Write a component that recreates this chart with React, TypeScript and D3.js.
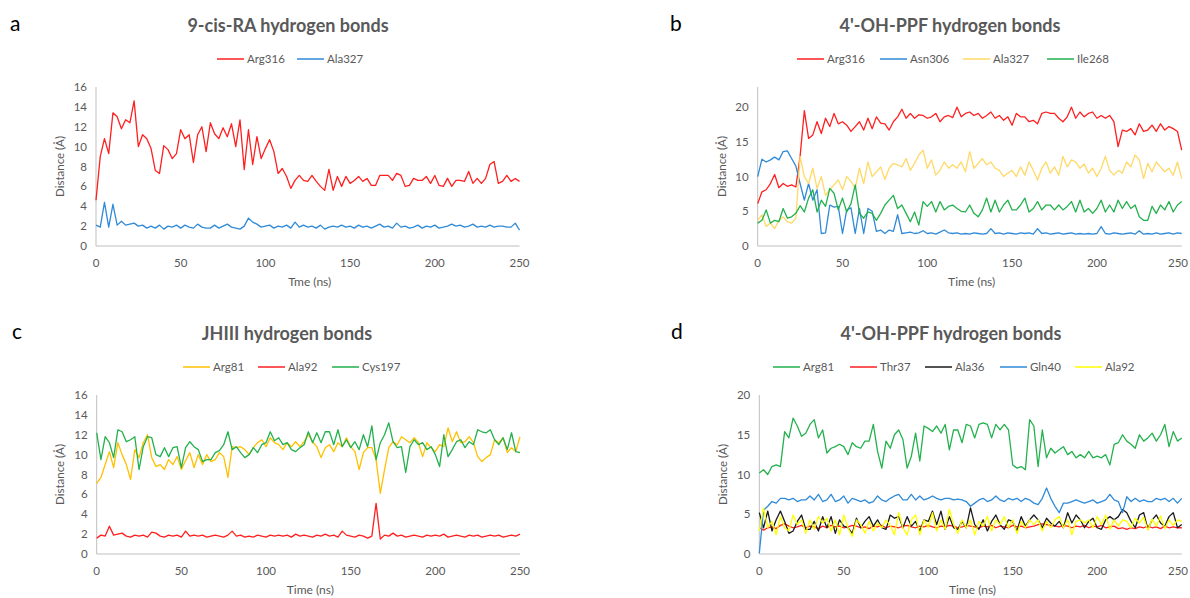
import React from 'react';
import * as d3 from 'd3';

// one sample every 2.5 ns, 0..250 ns
const STEP_NS = 2.5;
const X_TICKS = [0, 50, 100, 150, 200, 250];

// ---- panel a: 9-cis-RA ----
const arg316A = [
  4.6, 9.0, 10.8, 9.3, 13.4, 13.0, 11.8, 12.7, 12.4, 14.6,
  10.0, 11.2, 10.8, 9.8, 7.6, 7.3, 10.1, 9.7, 8.8, 9.3,
  11.7, 10.8, 11.2, 8.4, 11.2, 12.0, 9.5, 12.4, 11.3, 10.8,
  11.9, 11.0, 12.3, 10.0, 12.7, 7.7, 11.7, 8.2, 11.0, 8.8,
  9.8, 10.7, 9.5, 7.3, 7.8, 7.0, 5.8, 6.6, 7.1, 6.6,
  6.5, 7.1, 6.5, 6.0, 5.6, 7.7, 5.6, 7.0, 6.0, 7.0,
  6.3, 6.6, 7.0, 6.5, 6.8, 6.1, 6.1, 7.1, 7.1, 7.1,
  6.6, 7.3, 7.1, 6.0, 6.1, 6.8, 6.6, 6.6, 7.0, 6.3,
  7.1, 6.1, 6.0, 6.8, 6.0, 6.6, 6.6, 6.5, 7.5, 6.3,
  6.8, 6.3, 6.8, 8.2, 8.5, 6.3, 6.5, 7.1, 6.5, 6.8,
  6.5,
];
const ala327A = [
  2.1, 1.9, 4.4, 1.9, 4.2, 2.1, 2.5, 2.1, 2.2, 2.3,
  2.0, 2.1, 1.8, 2.0, 1.8, 2.1, 1.7, 2.0, 1.9, 2.1,
  1.8, 2.1, 1.9, 1.8, 2.2, 1.9, 1.8, 1.8, 2.1, 1.8,
  2.0, 2.2, 1.9, 1.8, 1.7, 2.0, 2.8, 2.4, 2.2, 1.9,
  2.0, 2.1, 1.8, 2.0, 1.9, 2.1, 1.8, 2.4, 1.9, 2.1,
  1.9, 2.0, 1.8, 2.1, 1.7, 1.9, 2.0, 1.9, 2.1, 1.9,
  2.0, 1.8, 2.1, 1.9, 2.0, 1.8, 2.0, 2.2, 1.9, 2.0,
  1.8, 2.3, 1.9, 2.0, 1.8, 1.9, 2.1, 1.8, 2.0, 1.9,
  2.1, 1.8, 1.9, 2.0, 2.2, 2.0, 2.1, 1.9, 2.0, 2.2,
  1.9, 2.0, 1.9, 2.1, 1.9, 2.0, 2.0, 1.9, 1.9, 2.3,
  1.6,
];

// ---- panel b: 4'-OH-PPF ----
const arg316B = [
  6.1, 7.8, 8.1, 9.0, 10.3, 8.4, 9.0, 8.6, 8.8, 8.5,
  12.9, 19.5, 15.5, 16.0, 17.9, 16.2, 18.4, 17.2, 19.1, 17.6,
  17.9, 17.4, 16.5, 17.2, 17.9, 16.7, 18.4, 16.9, 18.6, 17.7,
  17.6, 16.7, 17.9, 18.6, 19.7, 18.4, 19.1, 18.4, 18.9, 18.8,
  18.4, 18.6, 19.1, 17.9, 18.6, 18.8, 18.5, 20.0, 18.6, 19.1,
  19.3, 18.8, 19.1, 18.4, 18.8, 19.3, 18.4, 18.8, 18.1, 18.6,
  17.4, 19.1, 18.6, 18.6, 17.9, 18.1, 17.6, 19.1, 19.3, 19.1,
  19.1, 18.4, 17.9, 18.6, 20.0, 18.4, 19.3, 18.6, 19.1, 19.3,
  18.4, 18.8, 18.4, 18.8, 17.9, 14.3, 16.7, 16.5, 16.9, 16.0,
  17.6, 16.5, 16.7, 17.4, 16.5, 17.6, 16.7, 17.2, 16.9, 16.5,
  13.8,
];
const asn306B = [
  10.0, 12.5, 12.1, 12.4, 12.8, 12.4, 13.6, 13.7, 12.6, 11.5,
  9.0, 6.6, 9.0, 6.6, 8.1, 1.8, 1.9, 5.9, 5.6, 5.7,
  1.8, 5.2, 5.5, 1.8, 5.4, 1.8, 5.4, 5.0, 2.1, 2.3,
  1.8, 2.3, 2.1, 4.5, 1.8, 1.9, 2.0, 1.8, 1.9, 2.2,
  1.8, 1.9, 1.7, 2.0, 2.3, 1.9, 1.8, 1.9, 1.7, 1.8,
  1.7, 1.9, 1.8, 1.7, 1.8, 2.5, 1.8, 1.9, 1.7, 1.9,
  1.8, 1.7, 1.9, 1.8, 1.9, 1.7, 2.5, 1.8, 1.9, 1.7,
  1.8, 1.9, 1.7, 1.8, 1.9, 1.7, 1.8, 1.7, 1.8, 1.7,
  1.8, 2.8, 1.8, 1.7, 1.9, 1.8, 1.7, 1.8, 1.9, 1.7,
  2.2, 1.7, 1.8, 1.7, 1.9, 1.7, 1.8, 1.9, 1.7, 1.9,
  1.8,
];
const ala327B = [
  3.7, 4.5, 2.8, 3.3, 2.5, 3.7, 4.2, 3.5, 3.3, 4.0,
  12.9, 10.0, 9.0, 11.2, 8.3, 10.0, 7.3, 8.1, 8.8, 9.5,
  8.1, 10.0, 9.3, 8.3, 11.2, 9.0, 12.1, 10.0, 10.7, 11.4,
  9.6, 11.2, 11.9, 11.7, 11.4, 12.6, 10.9, 11.9, 13.1, 13.8,
  11.2, 12.4, 10.2, 10.9, 12.1, 11.2, 11.7, 11.2, 12.1, 10.7,
  13.6, 11.2, 11.9, 12.6, 11.7, 12.1, 11.2, 10.9, 10.0, 10.5,
  10.9, 10.0, 11.4, 10.2, 12.1, 10.9, 9.5, 11.2, 12.1, 10.5,
  11.4, 10.2, 12.9, 11.4, 12.4, 12.1, 11.2, 11.8, 10.5, 11.2,
  10.0, 11.2, 12.9, 10.9, 10.2, 10.9, 10.5, 12.1, 11.4, 13.1,
  12.4, 9.7, 11.9, 10.7, 12.1, 11.4, 10.7, 11.2, 10.2, 12.1,
  9.7,
];
const ile268B = [
  3.3, 3.7, 5.2, 3.3, 3.7, 3.5, 5.4, 4.0, 4.2, 4.7,
  5.8, 4.9, 6.9, 8.1, 4.9, 6.6, 5.7, 8.3, 7.6, 5.2,
  6.9, 4.9, 6.1, 8.8, 4.7, 4.0, 4.9, 4.7, 3.7, 4.7,
  5.9, 6.6, 7.3, 5.4, 5.9, 4.7, 3.5, 4.9, 3.0, 6.4,
  5.7, 6.4, 4.9, 6.4, 5.2, 5.7, 5.9, 5.4, 5.0, 4.9,
  5.9, 4.7, 4.2, 5.2, 6.9, 4.9, 6.6, 4.9, 5.9, 6.6,
  5.2, 5.2, 5.9, 6.9, 4.9, 5.4, 6.4, 5.2, 5.9, 5.9,
  5.2, 5.9, 5.2, 5.7, 6.4, 4.9, 6.6, 4.9, 5.4, 4.7,
  5.4, 6.6, 4.9, 5.9, 4.9, 6.6, 5.4, 6.4, 5.4, 5.9,
  4.2, 3.7, 3.7, 5.7, 4.7, 5.9, 5.2, 6.4, 4.9, 5.9,
  6.4,
];

// ---- panel c: JHIII ----
const arg81C = [
  7.1, 7.7, 9.0, 10.3, 8.7, 11.2, 10.0, 9.0, 7.5, 10.5,
  9.7, 11.2, 12.0, 9.7, 8.8, 9.0, 8.5, 9.5, 9.0, 9.8,
  8.5, 9.4, 10.2, 8.7, 10.0, 9.0, 10.0, 9.3, 9.5, 10.2,
  9.8, 7.7, 10.8, 10.7, 10.8, 10.5, 10.0, 10.7, 11.2, 11.5,
  10.8, 11.7, 11.2, 11.0, 10.5, 11.2, 10.8, 11.3, 10.8, 11.3,
  12.0, 11.3, 10.8, 9.7, 10.7, 11.0, 10.3, 11.2, 10.8, 11.7,
  10.8, 10.3, 8.5, 10.2, 10.7, 10.7, 9.5, 6.1, 8.5, 10.7,
  11.3, 11.0, 11.8, 11.5, 11.2, 11.7, 11.2, 9.8, 11.2, 10.7,
  10.3, 11.0, 10.8, 12.7, 11.3, 12.3, 11.2, 11.3, 11.8, 11.2,
  9.8, 9.3, 9.7, 10.0, 11.5, 11.2, 11.7, 10.2, 10.7, 10.3,
  11.8,
];
const ala92C = [
  1.6, 1.9, 1.8, 2.8, 1.9, 2.0, 2.1, 1.8, 1.7, 1.9,
  1.8, 1.9, 1.7, 2.2, 2.1, 1.8, 1.7, 1.9, 1.8, 1.9,
  1.7, 2.3, 1.8, 1.9, 1.8, 1.9, 1.7, 1.8, 1.9, 1.8,
  1.7, 1.9, 2.3, 1.8, 1.9, 1.7, 1.8, 1.7, 1.9, 1.8,
  1.7, 1.9, 1.8, 1.9, 1.8, 1.9, 1.7, 2.0, 1.8, 1.9,
  1.8, 1.7, 1.9, 1.8, 2.0, 1.8, 1.9, 1.7, 2.3, 1.9,
  1.8, 1.7, 1.9, 1.8, 1.6, 1.8, 5.1, 1.5, 1.9, 1.8,
  2.1, 1.8, 1.9, 1.7, 1.8, 1.9, 1.8, 1.7, 1.9, 1.8,
  1.9, 1.8, 2.0, 1.7, 1.8, 1.9, 1.8, 1.7, 1.9, 1.8,
  1.9, 1.7, 1.8, 1.9, 1.8, 1.9, 1.7, 1.8, 1.9, 1.8,
  2.0,
];
const cys197C = [
  12.2, 9.5, 11.8, 11.2, 9.7, 12.5, 12.3, 11.3, 11.5, 11.8,
  8.5, 10.8, 11.8, 11.7, 10.0, 9.8, 10.7, 9.8, 10.7, 10.8,
  8.7, 10.7, 11.3, 10.8, 10.5, 9.3, 9.5, 9.5, 10.2, 10.4,
  11.0, 12.3, 10.5, 10.8, 10.2, 9.7, 10.0, 10.7, 10.2, 11.0,
  11.2, 12.3, 11.4, 11.7, 11.0, 11.2, 10.5, 10.3, 10.7, 11.0,
  12.3, 11.2, 12.2, 11.2, 12.3, 12.3, 11.0, 12.5, 10.8, 11.5,
  10.7, 11.3, 10.5, 12.0, 10.8, 12.9, 9.5, 11.2, 12.0, 13.2,
  11.3, 10.7, 10.8, 8.2, 10.8, 11.5, 11.0, 11.2, 10.5, 10.8,
  10.0, 8.8, 12.0, 9.8, 10.5, 11.3, 11.5, 10.7, 11.3, 11.0,
  12.5, 12.3, 12.2, 12.5, 11.5, 11.0, 11.7, 10.5, 12.2, 10.3,
  10.2,
];

// ---- panel d: 4'-OH-PPF ----
const arg81D = [
  10.2, 10.6, 10.0, 11.0, 11.2, 11.0, 15.4, 14.6, 17.1, 16.1,
  14.8, 15.2, 16.3, 16.9, 14.6, 15.6, 12.7, 13.3, 13.5, 13.8,
  13.5, 12.5, 14.0, 13.5, 13.3, 14.2, 14.2, 16.3, 12.9, 10.8,
  14.2, 13.3, 15.0, 15.6, 14.4, 10.8, 12.3, 15.2, 11.7, 16.1,
  15.8, 15.4, 16.1, 15.2, 16.3, 13.1, 15.6, 15.6, 14.0, 16.3,
  16.1, 14.6, 16.3, 16.5, 16.3, 14.6, 16.3, 15.6, 16.3, 15.6,
  11.2, 10.8, 11.0, 10.6, 16.9, 16.1, 11.0, 15.6, 12.1, 13.3,
  12.7, 13.1, 13.5, 12.5, 12.9, 12.1, 12.5, 12.1, 12.9, 12.1,
  12.3, 12.1, 12.5, 11.2, 13.8, 14.0, 15.0, 14.2, 13.8, 13.3,
  15.0, 14.2, 14.6, 15.2, 14.2, 15.0, 16.3, 13.5, 15.4, 14.2,
  14.6,
];
const thr37D = [
  3.3, 3.0, 3.3, 3.4, 3.2, 3.6, 3.8, 3.5, 3.3, 3.4,
  3.6, 3.3, 3.5, 3.4, 3.2, 3.5, 3.3, 3.6, 3.4, 3.5,
  3.3, 3.4, 3.6, 3.5, 3.3, 3.4, 3.2, 3.5, 3.4, 3.6,
  3.3, 3.5, 3.4, 3.3, 3.5, 3.6, 3.4, 3.3, 3.5, 3.4,
  3.6, 3.4, 3.3, 3.5, 3.4, 3.6, 3.5, 3.3, 3.4, 3.6,
  3.5, 3.4, 3.3, 3.5, 3.4, 3.6, 3.3, 3.5, 3.4, 3.3,
  3.6, 3.4, 3.5, 3.3, 3.4, 3.5, 3.7, 3.8, 3.7, 3.6,
  3.5, 3.4, 3.6, 3.5, 3.3, 3.5, 3.4, 3.6, 3.3, 3.5,
  3.4, 3.6, 3.3, 3.4, 3.5, 3.2, 3.3, 3.1, 3.3, 3.2,
  3.4, 3.3, 3.5, 3.3, 3.4, 3.2, 3.5, 3.3, 3.4, 3.3,
  3.3,
];
const ala36D = [
  5.2, 3.3, 5.4, 2.9, 4.3, 5.4, 4.1, 2.6, 2.9, 4.1,
  4.9, 3.1, 3.1, 4.1, 2.9, 4.7, 3.3, 4.7, 2.6, 4.3,
  3.5, 3.3, 2.6, 4.5, 3.3, 4.1, 4.7, 3.5, 4.3, 3.3,
  3.1, 4.9, 4.5, 4.7, 3.3, 4.7, 3.5, 4.1, 2.9, 4.3,
  4.1, 5.4, 3.7, 5.4, 3.1, 4.7, 3.3, 3.1, 4.1, 3.3,
  5.8, 3.7, 3.1, 4.3, 2.9, 4.1, 4.9, 3.7, 3.1, 4.3,
  4.1, 2.9, 4.7, 3.5, 4.3, 4.9, 4.3, 3.3, 4.5, 3.9,
  3.5, 4.1, 3.3, 5.2, 3.9, 4.9, 4.3, 3.3, 4.1, 4.5,
  3.3, 3.1, 4.3, 4.7, 4.3, 4.7, 5.6, 5.2, 4.1, 3.3,
  4.9, 5.2, 3.1, 4.3, 4.9, 3.9, 3.5, 4.7, 5.2, 3.3,
  3.7,
];
const gln40D = [
  0.1, 5.5, 6.0, 6.6, 6.4, 7.0, 7.0, 6.8, 7.0, 6.6,
  6.8, 6.8, 7.3, 6.8, 7.5, 6.6, 6.8, 7.5, 6.6, 6.8,
  7.3, 6.4, 7.0, 6.8, 6.6, 6.8, 6.4, 6.6, 7.3, 6.8,
  6.6, 7.0, 7.3, 7.5, 6.8, 6.8, 7.5, 6.8, 7.3, 6.8,
  7.0, 7.3, 7.0, 6.8, 7.0, 7.0, 6.8, 6.9, 6.8, 6.6,
  6.0, 6.4, 6.8, 7.0, 6.6, 6.8, 7.3, 6.8, 6.6, 7.0,
  6.8, 7.0, 6.6, 7.0, 6.8, 6.4, 6.2, 7.0, 8.3, 7.0,
  6.0, 5.2, 6.4, 6.4, 6.6, 6.8, 6.6, 6.4, 6.6, 6.8,
  6.4, 6.6, 6.8, 7.5, 6.8, 6.6, 5.2, 7.2, 6.6, 7.0,
  6.6, 6.8, 6.6, 6.6, 7.0, 6.8, 7.0, 6.6, 7.0, 6.4,
  7.0,
];
const ala92D = [
  2.9, 5.8, 3.3, 4.1, 2.4, 4.7, 3.3, 2.9, 4.9, 3.7,
  4.3, 2.6, 4.3, 3.1, 4.7, 3.9, 4.5, 2.9, 4.3, 2.4,
  4.9, 3.3, 2.2, 4.3, 3.7, 2.6, 4.1, 2.9, 3.9, 3.3,
  4.3, 3.6, 2.4, 5.2, 3.3, 2.4, 4.3, 4.9, 2.4, 4.3,
  3.3, 5.2, 2.9, 4.3, 3.1, 5.6, 3.7, 2.6, 4.3, 3.3,
  4.3, 2.4, 4.1, 3.5, 4.7, 2.9, 4.3, 3.7, 4.7, 3.3,
  4.3, 2.6, 4.1, 3.3, 4.3, 3.7, 4.3, 2.9, 4.1, 3.3,
  4.3, 4.7, 3.3, 4.3, 2.4, 4.1, 4.3, 3.9, 4.3, 3.3,
  4.7, 3.7, 4.9, 3.1, 4.3, 3.5, 4.3, 4.1, 3.3, 4.5,
  3.9, 4.6, 3.0, 4.4, 3.5, 4.8, 3.2, 4.3, 3.6, 4.3,
  4.1,
];

const RED = '#ff1f1f';
const BLUE = '#2f8ad8';
const GREEN = '#22b14c';
const TEXT = '#595959';
const AXIS = '#bfbfbf';
const FONT = "Lato, 'Open Sans', sans-serif";
const WIDTH = 1190;

type Series = { name: string; color: string; values: number[]; legendX: number };
type PanelCfg = {
  letter: string; letterX: number;
  title: string; titleX: number;
  xTitle: string;
  left: number; right: number; top: number; bottom: number;
  yMax: number; yTicks: number[];
  yLabelX: number;
  series: Series[];
};

const panels: PanelCfg[] = [
  {
    letter: 'a', letterX: 10, title: '9-cis-RA hydrogen bonds', titleX: 288, xTitle: 'Tme (ns)',
    left: 96, right: 519.5, top: 87, bottom: 246, yMax: 16, yTicks: [0, 2, 4, 6, 8, 10, 12, 14, 16],
    yLabelX: 64,
    series: [
      { name: 'Arg316', color: RED, values: arg316A, legendX: 217 },
      { name: 'Ala327', color: BLUE, values: ala327A, legendX: 297 },
    ],
  },
  {
    letter: 'b', letterX: 670, title: "4'-OH-PPF hydrogen bonds", titleX: 950, xTitle: 'Time (ns)',
    left: 757.7, right: 1181.7, top: 87, bottom: 246, yMax: 22.9, yTicks: [0, 5, 10, 15, 20],
    yLabelX: 726,
    series: [
      { name: 'Arg316', color: RED, values: arg316B, legendX: 797 },
      { name: 'Asn306', color: BLUE, values: asn306B, legendX: 880 },
      { name: 'Ala327', color: '#ffd966', values: ala327B, legendX: 963 },
      { name: 'Ile268', color: GREEN, values: ile268B, legendX: 1047 },
    ],
  },
  {
    letter: 'c', letterX: 12, title: 'JHIII hydrogen bonds', titleX: 287, xTitle: 'Time (ns)',
    left: 96.7, right: 520, top: 395, bottom: 554, yMax: 16, yTicks: [0, 2, 4, 6, 8, 10, 12, 14, 16],
    yLabelX: 64,
    series: [
      { name: 'Arg81', color: '#ffc000', values: arg81C, legendX: 183 },
      { name: 'Ala92', color: RED, values: ala92C, legendX: 258 },
      { name: 'Cys197', color: GREEN, values: cys197C, legendX: 332 },
    ],
  },
  {
    letter: 'd', letterX: 671, title: "4'-OH-PPF hydrogen bonds", titleX: 951, xTitle: 'Time (ns)',
    left: 759.3, right: 1181.7, top: 395, bottom: 554, yMax: 20, yTicks: [0, 5, 10, 15, 20],
    yLabelX: 727,
    series: [
      { name: 'Arg81', color: GREEN, values: arg81D, legendX: 773 },
      { name: 'Thr37', color: RED, values: thr37D, legendX: 850 },
      { name: 'Ala36', color: '#1a1a1a', values: ala36D, legendX: 925 },
      { name: 'Gln40', color: BLUE, values: gln40D, legendX: 1000 },
      { name: 'Ala92', color: '#ffff00', values: ala92D, legendX: 1075 },
    ],
  },
];

function Panel({ p }: { p: PanelCfg }) {
  const x = d3.scaleLinear().domain([0, 250]).range([p.left, p.right]);
  const y = d3.scaleLinear().domain([0, p.yMax]).range([p.bottom, p.top]);
  const line = d3.line<number>().x((_, i) => x(i * STEP_NS)).y((d) => y(d));

  const titleY = p.top - 55;
  const legendY = p.top - 28;

  return (
    <g fontFamily={FONT}>
      <text x={p.letterX} y={p.top - 56} fontSize={21} fill="#000">{p.letter}</text>
      <text x={p.titleX} y={titleY} fontSize={18} fontWeight="bold" fill={TEXT} textAnchor="middle">{p.title}</text>

      {p.series.map((s) => (
        <g key={s.name}>
          <line x1={s.legendX} x2={s.legendX + 27} y1={legendY} y2={legendY} stroke={s.color} strokeWidth={1.5} />
          <text x={s.legendX + 30} y={legendY + 4} fontSize={11.5} fill={TEXT}>{s.name}</text>
        </g>
      ))}

      <line x1={p.left} x2={p.left} y1={p.top} y2={p.bottom} stroke={AXIS} />
      <line x1={p.left} x2={p.right} y1={p.bottom} y2={p.bottom} stroke={AXIS} />

      {p.yTicks.map((t) => (
        <text key={t} x={p.left - 9} y={y(t) + 4} fontSize={11.5} fill={TEXT} textAnchor="end">{t}</text>
      ))}
      {X_TICKS.map((t) => (
        // keep the last label inside the page edge
        <text key={t} x={Math.min(x(t), WIDTH - 12)} y={p.bottom + 21} fontSize={11.5} fill={TEXT} textAnchor="middle">{t}</text>
      ))}

      <text
        transform={`translate(${p.yLabelX},${(p.top + p.bottom) / 2}) rotate(-90)`}
        fontSize={11.5} fill={TEXT} textAnchor="middle"
      >Distance (Å)</text>
      <text x={(p.left + p.right) / 2 + 2} y={p.bottom + 40} fontSize={12} fill={TEXT} textAnchor="middle">{p.xTitle}</text>

      {p.series.map((s) => (
        <path key={s.name} d={line(s.values) || ''} fill="none" stroke={s.color} strokeWidth={1.3} strokeLinejoin="round" />
      ))}
    </g>
  );
}

export default function App() {
  return (
    <svg width={WIDTH} height={598} style={{ position: 'absolute', left: 0, top: 0, background: '#fff' }}>
      <rect width={WIDTH} height={598} fill="#fff" />
      {panels.map((p) => <Panel key={p.letter} p={p} />)}
    </svg>
  );
}
